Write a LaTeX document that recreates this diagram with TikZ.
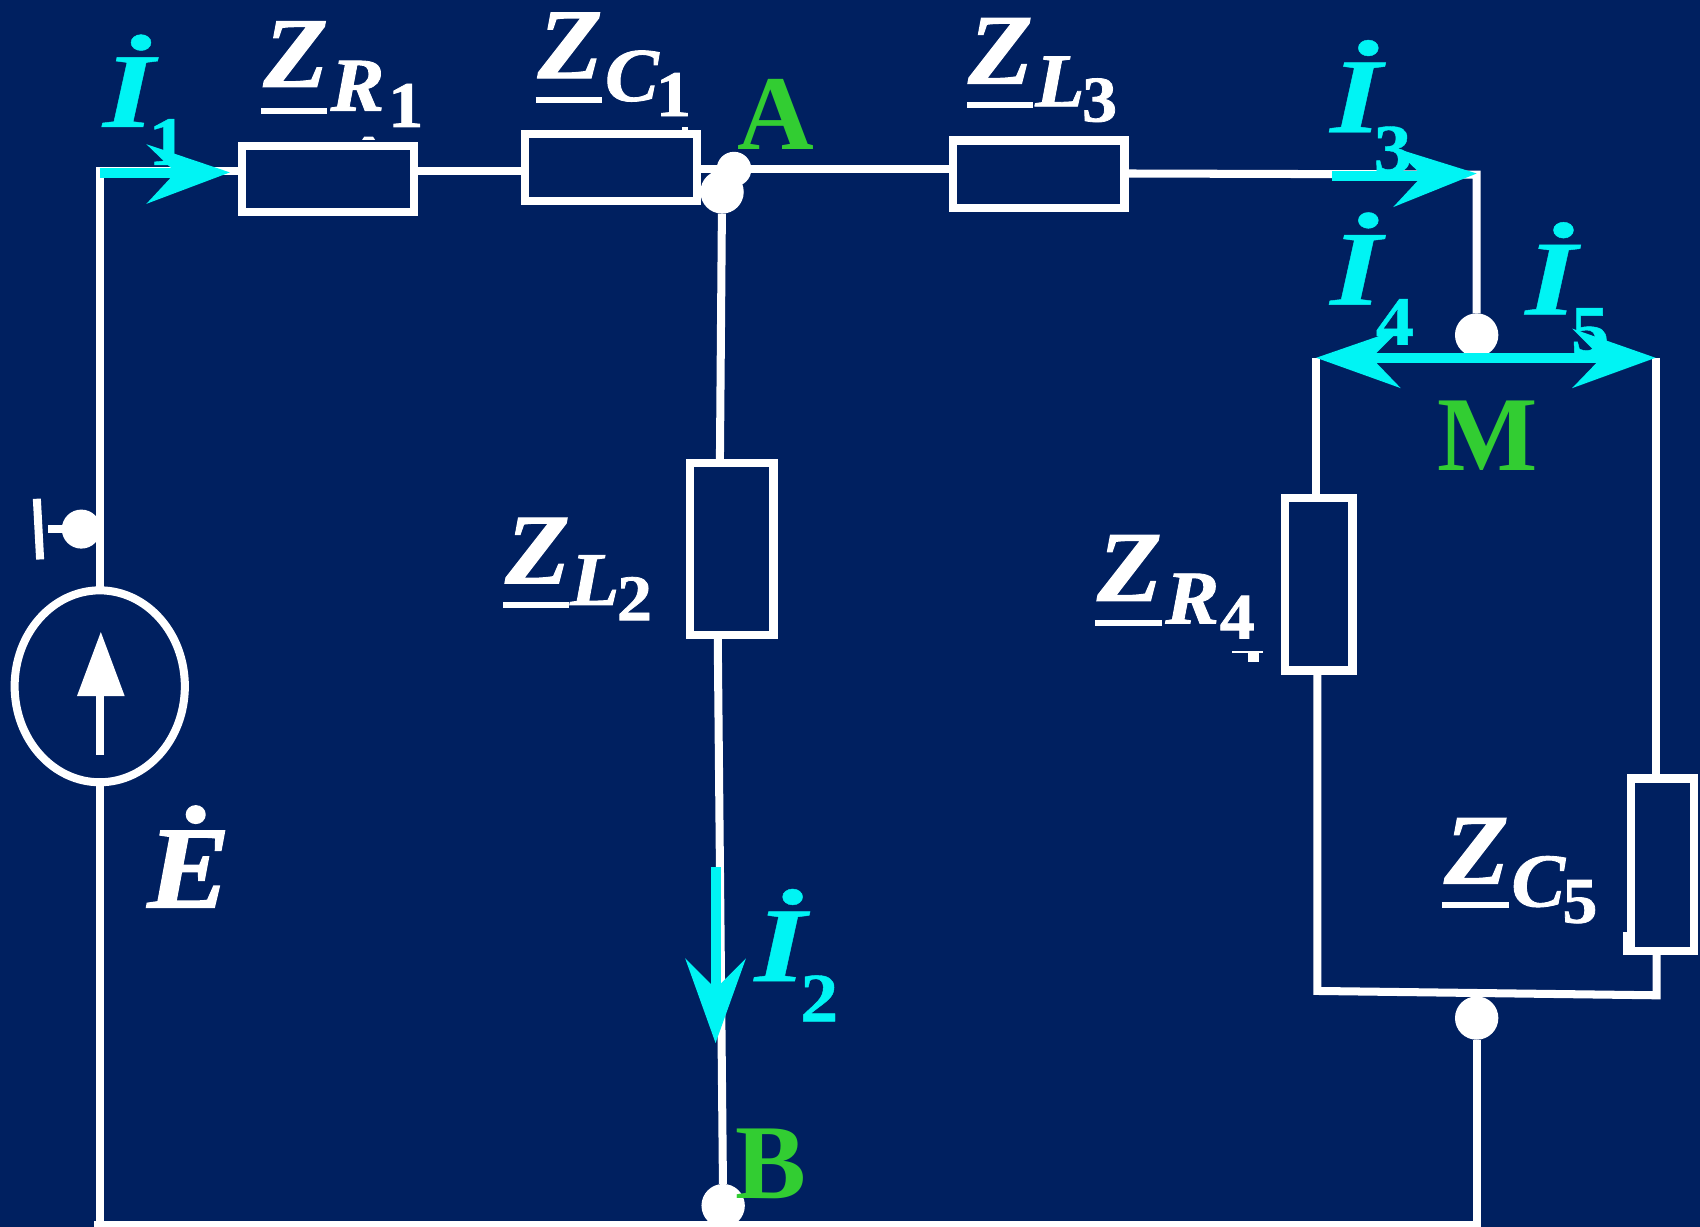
\documentclass[tikz,border=0pt]{standalone}
\usepackage{fontspec}
\usetikzlibrary{shapes.geometric}
\setmainfont{Liberation Serif}
\newfontfamily\zfont[BoldItalicFeatures={FakeBold=1.2,FakeStretch=1.06},BoldFeatures={FakeBold=1.2,FakeStretch=1.08}]{Liberation Serif}
\newfontfamily\ifont[BoldItalicFeatures={FakeStretch=1.25,FakeBold=0.4},BoldFeatures={FakeStretch=1.1,FakeBold=0.6}]{Liberation Serif}
\definecolor{bgc}{HTML}{002060}
\definecolor{cyn}{HTML}{00F4F4}
\definecolor{grn}{HTML}{32CD32}
\newcommand{\fz}[1]{\fontsize{#1}{#1}\selectfont}
\tikzset{
 wire/.style={draw=white,line width=3.7pt},
 comp/.style={draw=white,line width=3.8pt,fill=none,inner sep=0pt,outer sep=0pt},
 dotw/.style={circle,fill=white,inner sep=0pt,outer sep=0pt,minimum size=#1},
 txt/.style={inner sep=0pt,outer sep=0pt,anchor=base west,text=white},
 zbig/.style={txt,font=\zfont\fz{46}\bfseries\itshape},
 zsub/.style={txt,font=\zfont\fz{35}\bfseries\itshape},
 znum/.style={txt,font=\zfont\fz{30}\bfseries},
 uline/.style={draw=white,line width=2.8pt},
 ibig/.style={txt,text=cyn,font=\ifont\fz{49}\bfseries\itshape},
 inum/.style={txt,text=cyn,font=\ifont\fz{32}\bfseries},
 lett/.style={txt,text=grn,font=\fz{49}\bfseries,anchor=base},
 head/.style={fill=cyn,draw=none},
 curr/.style={draw=cyn,line width=4.6pt},
}
\begin{document}
\begin{tikzpicture}[x=0.5pt,y=-0.5pt]
\path[use as bounding box,fill=bgc] (0,0) rectangle (1568,1131.7);
% components
\node[comp,minimum width=79.2pt,minimum height=30.3pt] (r1) at (302.6,165) {};
\node[comp,minimum width=79.2pt,minimum height=31pt] (c1) at (563.5,154.5) {};
\node[comp,minimum width=79.2pt,minimum height=31pt] (l3) at (958,160.5) {};
\node[comp,minimum width=38.5pt,minimum height=79.5pt] (l2) at (675,506.5) {};
\node[comp,minimum width=31pt,minimum height=79.5pt] (r4) at (1216.5,539) {};
\node[comp,minimum width=29pt,minimum height=79.5pt] (c5) at (1533.5,797.5) {};
\node[draw=white,line width=3.7pt,ellipse,minimum width=78.5pt,minimum height=88.5pt,inner sep=0pt,outer sep=0pt] (src) at (92,633) {};
% junction coordinates
\coordinate (tl) at (92,158);
\coordinate (bl) at (92,1128);
\coordinate (tr) at (1362,161);
\coordinate (l3r) at (1039,160);
\coordinate (lt) at (1214,330);
\coordinate (rt) at (1527,330);
\coordinate (lb) at (1215,914);
\coordinate (rb) at (1528,918);
% dots
\node[dotw=20pt] (a2) at (666,177) {};
\node[dotw=16pt] (a1) at (677,156) {};
\node[dotw=20pt] (m) at (1362,309) {};
\node[dotw=20pt] (n) at (1362,939) {};
\node[dotw=20pt] (b) at (667,1112) {};
\node[dotw=18pt] (t) at (75,488) {};
% wires
\draw[wire] (bl) -- (src.south);
\draw[wire] (src.north) -- (tl) -- (r1.west |- tl);
\draw[wire] (r1.east |- tl) -- (c1.west |- tl);
\draw[wire] (c1.east |- a1) -- (a1) -- (l3.west |- a1);
\draw[wire] (l3r) -- (tr) -- (m);
\draw[wire] (a2) -- (664,426);
\draw[wire] (662,587) -- (b);
\draw[wire] (lt) -- (1214,458);
\draw[wire] (rt) -- (1527,717);
\draw[wire] (1215,620) -- (lb) -- (rb) -- (1528,878);
\draw[wire] (n) -- (1362,1131.7);
\draw[wire] (87,1130) -- (1362,1130);
\draw[wire] (t) -- (44,488);
\draw[wire] (34,460) -- (37,516);
% small artefacts
\fill[white] (334,129) -- (336,126) -- (344,126) -- (346,129) -- cycle;
\fill[white] (629,117) rectangle (635,123);
\fill[white] (1136,600) rectangle (1165,602);
\fill[white] (1151,602) rectangle (1161,611);
\fill[white] (1497,860) rectangle (1503,881);
% source arrow
\draw[wire] (92,696) -- (92,640);
\fill[white] (71,642) -- (93,583) -- (115,642) -- cycle;
% labels
\node[zbig] (zr1) at (243,80) {Z}; \node[zsub] (zr1s) at (305,102) {R}; \node[znum] (zr1n) at (358,117) {1};
\draw[uline] (241,102) -- (302,102);
\node[zbig] (zc1) at (496,72) {Z}; \node[zsub] (zc1s) at (558,93) {C}; \node[znum] (zc1n) at (605,107) {1};
\draw[uline] (494,92) -- (555,92);
\node[zbig] (zl3) at (893,77) {Z}; \node[zsub] (zl3s) at (955,98) {L}; \node[znum] (zl3n) at (998,112) {3};
\draw[uline] (892,97) -- (953,97);
\node[zbig] (zl2) at (466,538) {Z}; \node[zsub] (zl2s) at (526,558) {L}; \node[znum] (zl2n) at (569,572) {2};
\draw[uline] (464,558) -- (525,558);
\node[zbig] (zr4) at (1012,554) {Z}; \node[zsub] (zr4s) at (1075,575) {R}; \node[znum] (zr4n) at (1125,589) {4};
\draw[uline] (1010,575) -- (1072,575);
\node[zbig] (zc5) at (1332,815) {Z}; \node[zsub] (zc5s) at (1394,836) {C}; \node[znum] (zc5n) at (1441,851) {5};
\draw[uline] (1330,835) -- (1392,835);
\node[ibig] (i1) at (95,117) {İ}; \node[inum] (i1n) at (137,152) {1};
\node[ibig] (i3) at (1227,122) {İ}; \node[inum] (i3n) at (1267,159) {3};
\node[ibig] (i4) at (1227,281) {İ}; \node[inum] (i4n) at (1269,318) {4};
\node[ibig] (i5) at (1407,290) {İ}; \node[inum] (i5n) at (1449,326) {5};
\node[ibig] (i2) at (696,905) {İ}; \node[inum] (i2n) at (738,942) {2};
\node[txt,font=\zfont\fz{54}\bfseries\itshape] (e) at (136,837) {Ė};
\node[lett] (la) at (716,138) {A};
\node[lett] (lm) at (1372,434) {M};
\node[lett] (lb1) at (711,1105) {B};
% current arrows
\draw[curr] (92,159.5) -- (190,159.5);
\fill[head] (212,159) -- (135,133) -- (162,159) -- (135,188) -- cycle;
\draw[curr] (1229,162) -- (1340,162);
\fill[head] (1362,160) -- (1285,136) -- (1312,162) -- (1285,191) -- cycle;
\draw[curr] (1240,330) -- (1500,330);
\fill[head] (1214,330) -- (1292,303) -- (1265,330) -- (1292,358) -- cycle;
\fill[head] (1527,330) -- (1450,303) -- (1477,330) -- (1450,358) -- cycle;
\draw[curr] (660,800) -- (660,930);
\fill[head] (660,962) -- (632,884) -- (660,912) -- (688,884) -- cycle;
\end{tikzpicture}
\end{document}
